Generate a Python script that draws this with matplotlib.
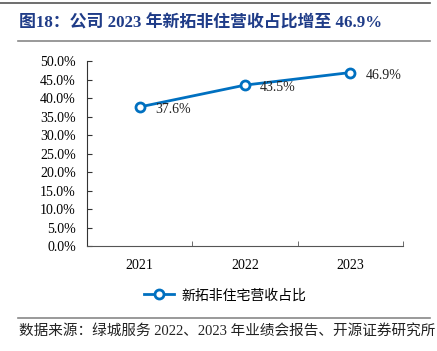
import matplotlib
matplotlib.use("Agg")
import matplotlib.pyplot as plt
from matplotlib.ticker import PercentFormatter, FixedLocator, NullFormatter
from matplotlib.lines import Line2D

plt.rcParams['font.family'] = ['Liberation Serif', 'Noto Sans CJK SC']

# data
years = ["2021", "2022", "2023"]
ratio = [37.6, 43.5, 46.9]
series_name = "新拓非住宅营收占比"
title = "图18：公司 2023 年新拓非住营收占比增至 46.9%"
source = "数据来源：绿城服务 2022、2023 年业绩会报告、开源证券研究所"

blue = "#0070C0"

fig = plt.figure(figsize=(4.37, 3.51), dpi=100)
ax = fig.add_axes([0.199, 0.299, 0.723, 0.527])

x = range(len(years))
ax.plot(x, ratio, color=blue, lw=2, marker="o", ms=6.5, mfc="white",
        mec=blue, mew=2, label=series_name)
for xi, v in zip(x, ratio):
    ax.annotate(f"{v:.1f}%", (xi, v), xytext=(11, -2), textcoords="offset points",
                ha="left", va="center", fontsize=10, color="#222222")

ax.set_xlim(-0.5, 2.5)
ax.set_ylim(0, 50)
ax.set_yticks([i * 5 for i in range(11)])
ax.yaxis.set_major_formatter(PercentFormatter(decimals=1))
ax.set_xticks(list(x))
ax.set_xticklabels(years)
# category boundary ticks
ax.xaxis.set_minor_locator(FixedLocator([-0.5, 0.5, 1.5, 2.5]))
ax.xaxis.set_minor_formatter(NullFormatter())
ax.tick_params(axis="y", labelsize=10, length=3.5, direction="in", color="#333333", pad=8)
ax.tick_params(axis="x", which="major", labelsize=10, length=0, pad=9)
ax.tick_params(axis="x", which="minor", length=3.5, direction="in", color="#555555")
for s in ["top", "right"]:
    ax.spines[s].set_visible(False)
ax.spines["left"].set_color("#333333")
ax.spines["bottom"].set_color("#555555")

fig.legend(handles=[Line2D([], [], color=blue, lw=2, marker="o", ms=6.5, mfc="white",
                           mec=blue, mew=2)],
           labels=[series_name], loc="center", bbox_to_anchor=(0.515, 0.158),
           frameon=False, fontsize=10, handlelength=2.2, handletextpad=0.5)

# title and rules
fig.add_artist(Line2D([0.0, 0.984], [0.992, 0.992], color="#555555", lw=1.2))
fig.text(0.043, 0.935, title, fontsize=12.2, fontweight="bold", color="#1F3C88",
         ha="left", va="center")
fig.add_artist(Line2D([0.041, 0.984], [0.883, 0.883], color="#888888", lw=1.2))
fig.add_artist(Line2D([0.041, 0.984], [0.094, 0.094], color="#888888", lw=1.2))
fig.text(0.043, 0.058, source, fontsize=10.5, color="#222222", ha="left", va="center")

fig.savefig("out.png", dpi=100)
